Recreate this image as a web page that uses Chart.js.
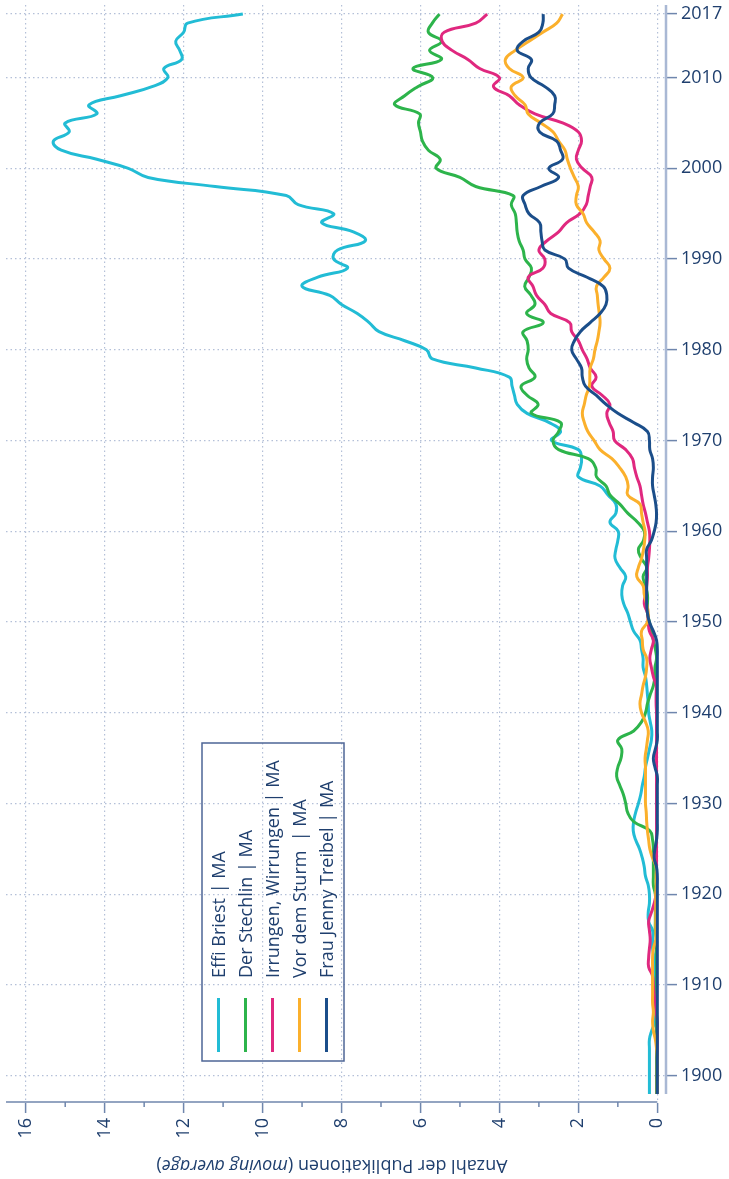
<!DOCTYPE html>
<html>
<head>
<meta charset="utf-8">
<title>Fontane – Anzahl der Publikationen</title>
<style>
  body { margin: 0; background: #fff; }
  canvas { display: block; }
</style>
<script src="https://cdn.jsdelivr.net/npm/chart.js"></script>
</head>
<body>
<canvas id="chart" width="729" height="1179"></canvas>
<script>
// years 1898 - 2017
const years = [
  1898, 1899, 1900, 1901, 1902, 1903, 1904, 1905, 1906, 1907,
  1908, 1909, 1910, 1911, 1912, 1913, 1914, 1915, 1916, 1917,
  1918, 1919, 1920, 1921, 1922, 1923, 1924, 1925, 1926, 1927,
  1928, 1929, 1930, 1931, 1932, 1933, 1934, 1935, 1936, 1937,
  1938, 1939, 1940, 1941, 1942, 1943, 1944, 1945, 1946, 1947,
  1948, 1949, 1950, 1951, 1952, 1953, 1954, 1955, 1956, 1957,
  1958, 1959, 1960, 1961, 1962, 1963, 1964, 1965, 1966, 1967,
  1968, 1969, 1970, 1971, 1972, 1973, 1974, 1975, 1976, 1977,
  1978, 1979, 1980, 1981, 1982, 1983, 1984, 1985, 1986, 1987,
  1988, 1989, 1990, 1991, 1992, 1993, 1994, 1995, 1996, 1997,
  1998, 1999, 2000, 2001, 2002, 2003, 2004, 2005, 2006, 2007,
  2008, 2009, 2010, 2011, 2012, 2013, 2014, 2015, 2016, 2017
];

const effiBriest = [
  0.2, 0.2, 0.2, 0.2, 0.2, 0.2, 0.2, 0.14, 0.06, 0.06,
  0.06, 0.06, 0.06, 0.06, 0.06, 0.08, 0.12, 0.12, 0.12, 0.22,
  0.23, 0.2, 0.2, 0.23, 0.3, 0.33, 0.38, 0.45, 0.55, 0.61,
  0.6, 0.55, 0.48, 0.42, 0.38, 0.33, 0.3, 0.25, 0.2, 0.15,
  0.14, 0.18, 0.22, 0.23, 0.25, 0.27, 0.3, 0.36, 0.36, 0.4,
  0.44, 0.6, 0.68, 0.75, 0.85, 0.9, 0.88, 0.8, 0.95, 1.07,
  1.05, 1.0, 0.99, 1.2, 1.05, 1.05, 1.25, 1.45, 2.0, 1.95,
  1.92, 2.0, 2.68, 2.45, 2.75, 3.3, 3.55, 3.62, 3.68, 3.75,
  4.6, 5.7, 5.85, 6.4, 7.05, 7.3, 7.6, 8.0, 8.3, 9.0,
  8.6, 7.85, 8.2, 8.1, 7.4, 7.7, 8.5, 8.2, 9.1, 9.4,
  11.2, 12.9, 13.4, 14.2, 15.1, 15.3, 14.9, 15.0, 14.2, 14.4,
  13.6, 12.8, 12.4, 12.5, 12.05, 12.1, 12.2, 12.0, 11.9, 10.5
];

const derStechlin = [
  0.02, 0.02, 0.02, 0.02, 0.02, 0.02, 0.02, 0.02, 0.02, 0.02,
  0.02, 0.02, 0.02, 0.02, 0.02, 0.02, 0.02, 0.02, 0.05, 0.05,
  0.05, 0.05, 0.05, 0.1, 0.1, 0.1, 0.1, 0.1, 0.12, 0.19,
  0.6, 0.75, 0.8, 0.86, 0.95, 1.03, 1.0, 0.92, 0.9, 1.0,
  0.6, 0.4, 0.3, 0.25, 0.18, 0.1, 0.06, 0.06, 0.02, 0.05,
  0.1, 0.15, 0.2, 0.25, 0.25, 0.25, 0.3, 0.36, 0.27, 0.4,
  0.48, 0.35, 0.33, 0.5, 0.75, 0.95, 1.2, 1.3, 1.54, 1.56,
  1.75, 2.5, 2.64, 2.5, 2.45, 3.19, 3.02, 3.3, 3.45, 3.1,
  3.25, 3.31, 3.27, 3.3, 3.4, 2.89, 3.31, 3.1, 3.2, 3.36,
  3.25, 3.19, 3.35, 3.4, 3.5, 3.55, 3.57, 3.6, 3.7, 3.65,
  4.6, 5.0, 5.6, 5.5, 5.8, 5.95, 6.0, 6.05, 6.02, 6.65,
  6.4, 6.07, 5.69, 6.19, 5.47, 5.77, 5.47, 5.8, 5.7, 5.52
];

const irrungenWirrungen = [
  0, 0, 0, 0, 0, 0, 0, 0, 0, 0.03,
  0.06, 0.08, 0.1, 0.12, 0.22, 0.22, 0.2, 0.18, 0.2, 0.22,
  0.15, 0.08, 0.03, 0.02, 0.02, 0.02, 0.02, 0.02, 0.02, 0.02,
  0.02, 0.02, 0.02, 0.02, 0.02, 0.02, 0.02, 0.02, 0.02, 0.02,
  0.02, 0.02, 0.02, 0.03, 0.03, 0.03, 0.1, 0.15, 0.19, 0.15,
  0.1, 0.2, 0.23, 0.25, 0.33, 0.3, 0.27, 0.25, 0.25, 0.22,
  0.2, 0.19, 0.2, 0.25, 0.3, 0.36, 0.4, 0.44, 0.52, 0.58,
  0.63, 0.8, 1.08, 1.12, 1.22, 1.28, 1.2, 1.4, 1.66, 1.55,
  1.7, 1.78, 1.9, 2.0, 2.17, 2.22, 2.7, 2.85, 3.06, 3.15,
  3.27, 2.9, 2.85, 3.0, 2.8, 2.5, 2.3, 1.96, 1.8, 1.75,
  1.7, 1.66, 1.9, 2.05, 2.0, 1.92, 2.0, 2.4, 3.1, 3.5,
  3.75, 4.15, 4.0, 4.5, 4.8, 5.2, 5.45, 5.4, 4.6, 4.31
];

const vorDemSturm = [
  0, 0, 0, 0, 0, 0.02, 0.05, 0.1, 0.12, 0.1,
  0.12, 0.12, 0.12, 0.12, 0.12, 0.12, 0.1, 0.04, 0.04, 0.04,
  0.04, 0.04, 0.04, 0.03, 0.03, 0.03, 0.12, 0.19, 0.22, 0.25,
  0.27, 0.28, 0.3, 0.3, 0.3, 0.3, 0.3, 0.31, 0.28, 0.25,
  0.23, 0.3, 0.4, 0.44, 0.4, 0.36, 0.3, 0.27, 0.27, 0.36,
  0.38, 0.4, 0.25, 0.23, 0.27, 0.33, 0.36, 0.52, 0.48, 0.4,
  0.35, 0.32, 0.31, 0.36, 0.4, 0.44, 0.75, 0.74, 0.8, 0.95,
  1.15, 1.45, 1.6, 1.76, 1.85, 1.9, 1.85, 1.8, 1.72, 1.71,
  1.7, 1.62, 1.58, 1.52, 1.48, 1.45, 1.47, 1.5, 1.52, 1.54,
  1.35, 1.2, 1.35, 1.48, 1.45, 1.6, 1.79, 1.88, 2.05, 2.05,
  2.0, 2.1, 2.2, 2.28, 2.34, 2.5, 2.64, 2.95, 3.27, 3.35,
  3.6, 3.7, 3.4, 3.75, 3.85, 3.6, 3.25, 2.9, 2.55, 2.4
];

const frauJennyTreibel = [
  0, 0, 0, 0, 0, 0, 0, 0, 0, 0,
  0, 0, 0, 0, 0, 0, 0, 0, 0, 0,
  0, 0, 0, 0, 0, 0.02, 0.08, 0.06, 0.02, 0,
  0, 0, 0, 0, 0, 0, 0.06, 0.1, 0.05, 0,
  0, 0, 0, 0, 0, 0, 0, 0, 0, 0,
  0.02, 0.1, 0.2, 0.25, 0.27, 0.27, 0.27, 0.27, 0.27, 0.27,
  0.27, 0.15, 0.08, 0.03, 0.02, 0.04, 0.08, 0.12, 0.12, 0.1,
  0.12, 0.19, 0.2, 0.25, 0.6, 1.0, 1.3, 1.55, 1.82, 1.9,
  1.92, 2.05, 2.17, 2.1, 1.95, 1.7, 1.45, 1.3, 1.28, 1.37,
  1.78, 2.25, 2.34, 2.85, 2.92, 2.95, 2.98, 3.25, 3.35, 3.4,
  2.95, 2.5, 2.75, 2.4, 2.45, 2.55, 2.98, 2.98, 2.65, 2.6,
  2.6, 2.85, 3.2, 3.27, 3.19, 3.55, 3.4, 3.0, 2.9, 2.89
];

const seriesNames = [
  'Effi Briest | MA',
  'Der Stechlin | MA',
  'Irrungen, Wirrungen | MA',
  'Vor dem Sturm  | MA',
  'Frau Jenny Treibel | MA'
];
const seriesValues = [effiBriest, derStechlin, irrungenWirrungen, vorDemSturm, frauJennyTreibel];
const seriesColors = ['#22bcd5', '#2db44b', '#e0287f', '#fbb02c', '#1b4e8a'];

const yearTicks = [1900, 1910, 1920, 1930, 1940, 1950, 1960, 1970, 1980, 1990, 2000, 2010, 2017];
const valueTicks = [0, 1, 2, 3, 4, 5, 6, 7, 8, 9, 10, 11, 12, 13, 14, 15, 16];

const FONT = '"Open Sans", Lato, sans-serif';
const TEXT = '#1f3f6e';
const GRID = '#b4c0d8';
const AXIS = '#6f86ad';

// axis lines, rotated title and the vertical legend
const overlay = {
  id: 'overlay',
  afterDraw(chart) {
    const { ctx, scales: { x, y } } = chart;
    const area = chart.chartArea;
    ctx.save();

    // year axis (right), set off from the plot
    ctx.strokeStyle = '#a9b8d4';
    ctx.lineWidth = 2.5;
    ctx.beginPath();
    ctx.moveTo(area.right, area.top);
    ctx.lineTo(area.right, y.getPixelForValue(years[0]));
    ctx.stroke();

    // value axis (bottom)
    ctx.strokeStyle = AXIS;
    ctx.lineWidth = 1.5;
    ctx.beginPath();
    ctx.moveTo(area.left, area.bottom - 1);
    ctx.lineTo(x.getPixelForValue(0), area.bottom - 1);
    ctx.stroke();

    // minor ticks on the value axis
    valueTicks.filter(v => v % 2 === 1).forEach(v => {
      const px = x.getPixelForValue(v);
      ctx.beginPath();
      ctx.moveTo(px, area.bottom - 1);
      ctx.lineTo(px, area.bottom + 4);
      ctx.stroke();
    });

    // title, upside down like the rest of the turned chart
    ctx.fillStyle = TEXT;
    ctx.textBaseline = 'middle';
    ctx.textAlign = 'left';
    const parts = [
      ['Anzahl der Publikationen (', '18px ' + FONT],
      ['moving average', 'italic 18px ' + FONT],
      [')', '18px ' + FONT]
    ];
    let total = 0;
    parts.forEach(p => { ctx.font = p[1]; total += ctx.measureText(p[0]).width; });
    ctx.save();
    ctx.translate((area.left + area.right) / 2 - 4, 1165);
    ctx.rotate(Math.PI);
    let pos = -total / 2;
    parts.forEach(p => {
      ctx.font = p[1];
      ctx.fillText(p[0], pos, 0);
      pos += ctx.measureText(p[0]).width;
    });
    ctx.restore();

    // legend box
    ctx.strokeStyle = '#4e6696';
    ctx.lineWidth = 1.5;
    ctx.strokeRect(202, 743, 142, 318);
    ctx.font = '18px ' + FONT;
    seriesNames.forEach((name, i) => {
      const cx = 218.5 + i * 27;
      ctx.strokeStyle = seriesColors[i];
      ctx.lineWidth = 3;
      ctx.beginPath();
      ctx.moveTo(cx, 998);
      ctx.lineTo(cx, 1052);
      ctx.stroke();
      ctx.save();
      ctx.translate(cx + 1, 978);
      ctx.rotate(-Math.PI / 2);
      ctx.fillStyle = TEXT;
      ctx.fillText(name, 0, 0);
      ctx.restore();
    });
    ctx.restore();
  }
};

new Chart(document.getElementById('chart'), {
  type: 'line',
  data: {
    datasets: seriesValues.map((vals, i) => ({
      label: seriesNames[i],
      data: years.map((yr, j) => ({ x: vals[j], y: yr })),
      borderColor: seriesColors[i],
      backgroundColor: seriesColors[i],
      borderWidth: 3,
      pointRadius: 0,
      tension: 0.45,
      fill: false
    })).reverse()
  },
  options: {
    indexAxis: 'y',
    responsive: false,
    animation: false,
    layout: { padding: { top: 5, left: 6, right: 0, bottom: 0 } },
    plugins: {
      legend: { display: false },
      tooltip: { enabled: false }
    },
    scales: {
      x: {
        type: 'linear',
        position: 'bottom',
        reverse: true,
        min: -0.22,
        max: 16.5,
        afterBuildTicks: s => { s.ticks = valueTicks.map(v => ({ value: v })); },
        afterFit: s => { s.height = 76; s.paddingLeft = 0; s.paddingRight = 0; },
        border: { display: false, dash: [1.5, 3] },
        grid: {
          color: c => (c.tick && c.tick.value % 2 === 0) ? GRID : 'rgba(0,0,0,0)',
          lineWidth: 1.2,
          tickLength: 10,
          tickColor: c => (c.tick && c.tick.value % 2 === 0) ? AXIS : 'rgba(0,0,0,0)',
          tickWidth: 1.5
        },
        ticks: {
          autoSkip: false,
          minRotation: 90,
          maxRotation: 90,
          padding: 5,
          color: TEXT,
          font: { family: FONT, size: 18 },
          callback: v => v % 2 === 0 ? String(v) : ''
        }
      },
      y: {
        type: 'linear',
        position: 'right',
        min: 1897,
        max: 2018,
        afterBuildTicks: s => { s.ticks = yearTicks.map(v => ({ value: v })); },
        afterFit: s => { s.width = 63; s.paddingTop = 0; s.paddingBottom = 0; },
        border: { display: false, dash: [1.5, 3] },
        grid: {
          color: GRID,
          lineWidth: 1.2,
          tickLength: 11,
          tickColor: AXIS,
          tickWidth: 1.5
        },
        ticks: {
          autoSkip: false,
          padding: 4,
          color: TEXT,
          font: { family: FONT, size: 18 },
          callback: v => String(v)
        }
      }
    }
  },
  plugins: [overlay]
});
</script>
</body>
</html>
